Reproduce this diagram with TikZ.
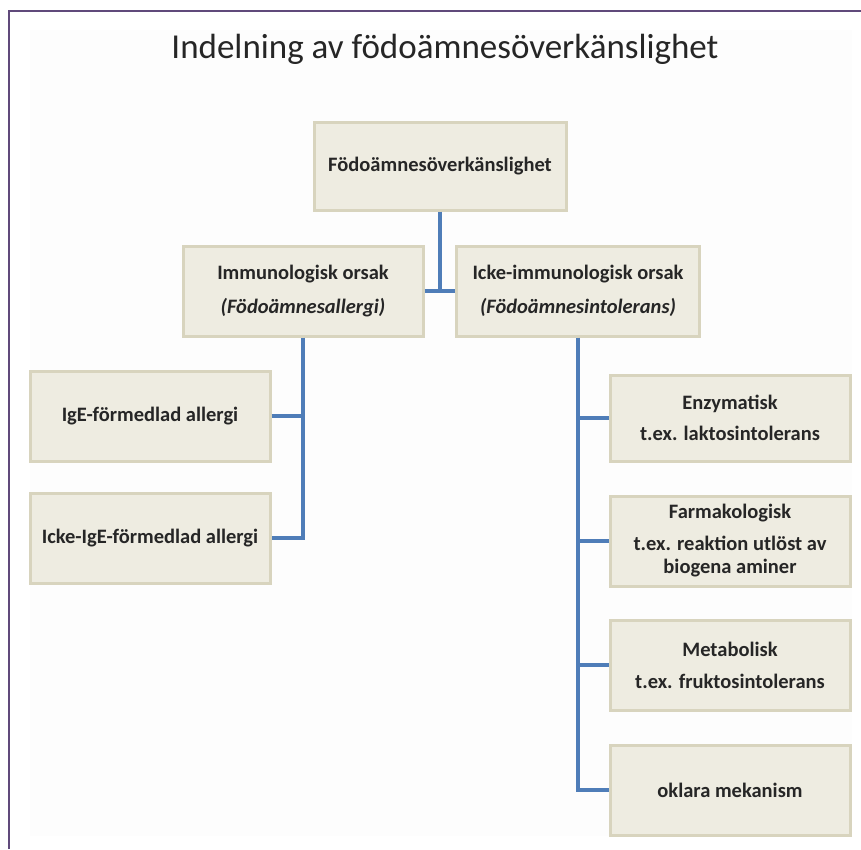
\documentclass[tikz,border=0pt]{standalone}
\usepackage{fontspec}
\setmainfont{Carlito}
\usetikzlibrary{positioning}
\definecolor{boxfill}{HTML}{EEECE1}
\definecolor{boxline}{HTML}{D8D4BE}
\definecolor{linkblue}{HTML}{4F7DB8}
\definecolor{framepurple}{HTML}{604A7B}
\tikzset{
  box/.style={draw=boxline, fill=boxfill, line width=3pt, align=center, font=\fontsize{20.5}{23}\selectfont\bfseries, text=black!85, minimum width=240pt, minimum height=90pt, inner sep=4pt},
  link/.style={draw=linkblue, line width=4pt},
  ttl/.style={font=\fontsize{35}{40}\selectfont, text=black!85}
}
\begin{document}
\begin{tikzpicture}[x=1pt,y=-1pt]
\useasboundingbox (0,0) rectangle (861,849);
\fill[white!99.3!black] (30,30) rectangle (852,836);
\draw[framepurple, line width=2pt] (9,849) -- (9,11) -- (861,11);
\node[ttl] (title) at (445,49) {Indelning av födoämnesöverkänslighet};
\node[box, minimum width=252pt, minimum height=88pt] (root) at (440,166) {Födoämnesöverkänslighet};
\node[box] (immun) at (303,291) {Immunologisk orsak\\[11pt]\textit{(Födoämnesallergi)}};
\node[box, minimum width=243pt] (nonimmun) at (578,291) {Icke-immunologisk orsak\\[11pt]\textit{(Födoämnesintolerans)}};
\node[box] (ige) at (150,416) {IgE-förmedlad allergi};
\node[box] (nonige) at (150,538) {Icke-IgE-förmedlad allergi};
\node[box, minimum height=86pt] (enzym) at (730,418) {Enzymatisk\\[8pt]t.ex. laktosintolerans};
\node[box] (farma) at (730,541) {Farmakologisk\\[9pt]t.ex. reaktion utlöst av\\biogena aminer};
\node[box] (metab) at (730,665) {Metabolisk\\[9pt]t.ex. fruktosintolerans};
\node[box] (unclear) at (730,790) {oklara mekanism};
% level 1 -> level 2
\draw[link] (immun.east) -- (nonimmun.west);
\draw[link] (root.south) -- (root.south |- immun.east);
% immunological branch
\draw[link] (immun.south) |- (nonige.east);
\draw[link] (ige.east) -- (immun.south |- ige.east);
% non-immunological branch
\draw[link] (nonimmun.south) |- (unclear.west);
\draw[link] (enzym.west) -- (nonimmun.south |- enzym.west);
\draw[link] (farma.west) -- (nonimmun.south |- farma.west);
\draw[link] (metab.west) -- (nonimmun.south |- metab.west);
\end{tikzpicture}
\end{document}
